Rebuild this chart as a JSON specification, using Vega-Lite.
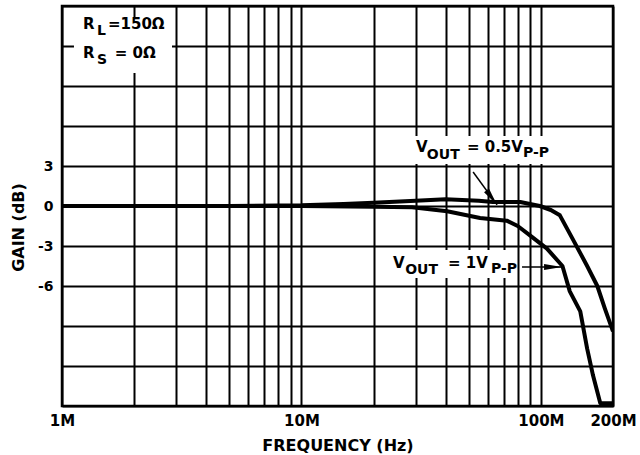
{
  "$schema": "https://vega.github.io/schema/vega-lite/v6.json",
  "width": 551,
  "height": 400,
  "autosize": {"type": "none"},
  "padding": {"left": 62, "top": 6, "right": 27, "bottom": 49},
  "background": "white",
  "config": {
    "view": {"stroke": "black", "strokeWidth": 2.5},
    "font": "DejaVu Sans",
    "axis": {
      "grid": true, "gridColor": "black", "gridWidth": 2, "gridOpacity": 1,
      "domain": false, "ticks": false, "tickSize": 0,
      "labelFont": "DejaVu Sans", "labelFontWeight": "bold", "labelColor": "black",
      "titleFont": "DejaVu Sans", "titleFontWeight": "bold", "titleColor": "black", "titleFontSize": 16
    }
  },
  "datasets": {
    "curves": [
      {"series": "0.5Vpp", "freq": 1000000, "gain": 0},
      {"series": "0.5Vpp", "freq": 5000000, "gain": 0},
      {"series": "0.5Vpp", "freq": 10000000, "gain": 0.05},
      {"series": "0.5Vpp", "freq": 15000000, "gain": 0.15},
      {"series": "0.5Vpp", "freq": 20000000, "gain": 0.25},
      {"series": "0.5Vpp", "freq": 30000000, "gain": 0.4},
      {"series": "0.5Vpp", "freq": 40000000, "gain": 0.5},
      {"series": "0.5Vpp", "freq": 55000000, "gain": 0.4},
      {"series": "0.5Vpp", "freq": 63000000, "gain": 0.3},
      {"series": "0.5Vpp", "freq": 82000000, "gain": 0.3},
      {"series": "0.5Vpp", "freq": 90000000, "gain": 0.15},
      {"series": "0.5Vpp", "freq": 99000000, "gain": 0},
      {"series": "0.5Vpp", "freq": 110000000, "gain": -0.3},
      {"series": "0.5Vpp", "freq": 120000000, "gain": -0.7},
      {"series": "0.5Vpp", "freq": 136000000, "gain": -2.5},
      {"series": "0.5Vpp", "freq": 156000000, "gain": -4.5},
      {"series": "0.5Vpp", "freq": 172000000, "gain": -6},
      {"series": "0.5Vpp", "freq": 185000000, "gain": -7.7},
      {"series": "0.5Vpp", "freq": 200000000, "gain": -9.4},
      {"series": "1Vpp", "freq": 1000000, "gain": 0},
      {"series": "1Vpp", "freq": 10000000, "gain": 0},
      {"series": "1Vpp", "freq": 20000000, "gain": -0.05},
      {"series": "1Vpp", "freq": 29000000, "gain": -0.1},
      {"series": "1Vpp", "freq": 40600000, "gain": -0.4},
      {"series": "1Vpp", "freq": 55700000, "gain": -0.9},
      {"series": "1Vpp", "freq": 72000000, "gain": -1.1},
      {"series": "1Vpp", "freq": 80000000, "gain": -1.5},
      {"series": "1Vpp", "freq": 90000000, "gain": -2.2},
      {"series": "1Vpp", "freq": 106000000, "gain": -3.2},
      {"series": "1Vpp", "freq": 123000000, "gain": -4.5},
      {"series": "1Vpp", "freq": 132000000, "gain": -6.4},
      {"series": "1Vpp", "freq": 146000000, "gain": -7.9},
      {"series": "1Vpp", "freq": 156000000, "gain": -10.7},
      {"series": "1Vpp", "freq": 165000000, "gain": -12.7},
      {"series": "1Vpp", "freq": 177000000, "gain": -14.8},
      {"series": "1Vpp", "freq": 200000000, "gain": -14.8}
    ],
    "boxes": [
      {"freq": 1122000, "freq2": 2880000, "gain": 14.18, "gain2": 9.98},
      {"freq": 27900000, "freq2": 109000000, "gain": 5.25, "gain2": 3.15},
      {"freq": 21300000, "freq2": 75700000, "gain": -3.3, "gain2": -5.4}
    ],
    "shafts": [
      {"freq": 52100000, "gain": 2.55, "freq2": 65600000, "gain2": 0.08},
      {"freq": 83400000, "gain": -4.58, "freq2": 122500000, "gain2": -4.58}
    ],
    "textMain": [
      {"freq": 1224000, "gain": 13.28, "label": "R"},
      {"freq": 1556000, "gain": 13.28, "label": "=150Ω"},
      {"freq": 1224000, "gain": 11.1, "label": "R"},
      {"freq": 1660000, "gain": 11.1, "label": "= 0Ω"},
      {"freq": 30100000, "gain": 4.05, "label": "V"},
      {"freq": 49100000, "gain": 4.05, "label": "= 0.5V"},
      {"freq": 24100000, "gain": -4.65, "label": "V"},
      {"freq": 40900000, "gain": -4.65, "label": "= 1V"}
    ],
    "textSub": [
      {"freq": 1400000, "gain": 12.83, "label": "L"},
      {"freq": 1400000, "gain": 10.65, "label": "S"},
      {"freq": 33400000, "gain": 3.53, "label": "OUT"},
      {"freq": 84200000, "gain": 3.68, "label": "P-P"},
      {"freq": 27100000, "gain": -5.1, "label": "OUT"},
      {"freq": 61900000, "gain": -5.03, "label": "P-P"}
    ]
  },
  "encoding": {
    "x": {
      "field": "freq", "type": "quantitative",
      "scale": {"type": "log", "domain": [1000000, 200000000], "nice": false},
      "axis": {
        "title": "FREQUENCY (Hz)",
        "values": [1000000, 2000000, 3000000, 4000000, 5000000, 6000000, 7000000, 8000000, 9000000, 10000000, 20000000, 30000000, 40000000, 50000000, 60000000, 70000000, 80000000, 90000000, 100000000, 200000000],
        "labelExpr": "datum.value == 1000000 ? '1M' : datum.value == 10000000 ? '10M' : datum.value == 100000000 ? '100M' : datum.value == 200000000 ? '200M' : ''",
        "labelFontSize": 15, "labelAlign": "center", "labelDx": 5,
        "labelBaseline": "alphabetic", "labelPadding": 19, "labelOverlap": false, "labelFlush": false,
        "titleBaseline": "alphabetic", "titleY": 44, "titleAnchor": "middle"
      }
    },
    "y": {
      "field": "gain", "type": "quantitative",
      "scale": {"domain": [-15, 15], "nice": false, "zero": false},
      "axis": {
        "title": "GAIN (dB)",
        "values": [-15, -12, -9, -6, -3, 0, 3, 6, 9, 12, 15],
        "labelExpr": "datum.value <= 3 && datum.value >= -6 ? '' + datum.value : ''",
        "labelFontSize": 14, "labelPadding": 9, "labelBaseline": "middle", "labelOverlap": false, "labelFlush": false,
        "titleAngle": 270, "titleAlign": "center", "titleBaseline": "middle", "titleX": -44, "titleY": 221
      }
    }
  },
  "layer": [
    {
      "data": {"name": "boxes"},
      "mark": {"type": "rect", "color": "white", "opacity": 1},
      "encoding": {"x2": {"field": "freq2"}, "y2": {"field": "gain2"}}
    },
    {
      "data": {"name": "curves"},
      "mark": {"type": "line", "color": "black", "strokeWidth": 4, "clip": true, "strokeJoin": "round", "strokeCap": "butt"},
      "encoding": {"detail": {"field": "series"}}
    },
    {
      "data": {"name": "shafts"},
      "mark": {"type": "rule", "color": "black", "strokeWidth": 1.5},
      "encoding": {"x2": {"field": "freq2"}, "y2": {"field": "gain2"}}
    },
    {
      "data": {"values": [{"freq": 65600000, "gain": 0.08}]},
      "mark": {"type": "point", "shape": "M0,0L-0.42,-2.5L0.42,-2.5Z", "filled": true, "color": "black", "opacity": 1, "size": 207, "angle": 324}
    },
    {
      "data": {"values": [{"freq": 122500000, "gain": -4.58}]},
      "mark": {"type": "point", "shape": "M0,0L-0.42,-2.5L0.42,-2.5Z", "filled": true, "color": "black", "opacity": 1, "size": 207, "angle": 270}
    },
    {
      "data": {"name": "textMain"},
      "mark": {"type": "text", "font": "DejaVu Sans", "fontWeight": "bold", "fontSize": 15, "align": "left", "baseline": "alphabetic", "color": "black"},
      "encoding": {"text": {"field": "label"}}
    },
    {
      "data": {"name": "textSub"},
      "mark": {"type": "text", "font": "DejaVu Sans", "fontWeight": "bold", "fontSize": 14, "align": "left", "baseline": "alphabetic", "color": "black"},
      "encoding": {"text": {"field": "label"}}
    }
  ]
}
